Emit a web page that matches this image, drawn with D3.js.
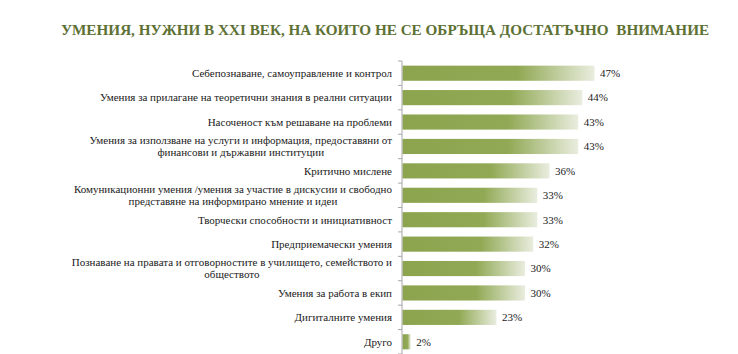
<!DOCTYPE html>
<html><head><meta charset="utf-8">
<script src="https://cdn.jsdelivr.net/npm/d3@7"></script>
<style>
html,body{margin:0;padding:0;background:#fff;}
svg{display:block;}
</style></head>
<body>
<svg id="chart" width="738" height="354"></svg>
<script>
const title = "УМЕНИЯ, НУЖНИ В XXI ВЕК, НА КОИТО НЕ СЕ ОБРЪЩА ДОСТАТЪЧНО  ВНИМАНИЕ";
const categories = [
  ["Себепознаване, самоуправление и контрол"],
  ["Умения за прилагане на теоретични знания в реални ситуации"],
  ["Насоченост към решаване на проблеми"],
  ["Умения за използване на услуги и информация, предоставяни от", "финансови и държавни институции"],
  ["Критично мислене"],
  ["Комуникационни умения /умения за участие в дискусии и свободно", "представяне на информирано мнение и идеи"],
  ["Творчески способности и инициативност"],
  ["Предприемачески умения"],
  ["Познаване на правата и отговорностите в училището, семейството и", "обществото"],
  ["Умения за работа в екип"],
  ["Дигиталните умения"],
  ["Друго"]
];
const values = [47, 44, 43, 43, 36, 33, 33, 32, 30, 30, 23, 2];
const valueLabels = ["47%", "44%", "43%", "43%", "36%", "33%", "33%", "32%", "30%", "30%", "23%", "2%"];

const FONT = "Liberation Serif";
const svg = d3.select("#chart");
const axisX = 402;
const idx = d3.range(categories.length);

const x = d3.scaleLinear().domain([0, 47]).range([axisX, 594]);
const y = d3.scaleBand().domain(idx).range([61, 354]).paddingInner(0.38).paddingOuter(0.19);

svg.append("text")
  .attr("x", 385).attr("y", 35)
  .attr("text-anchor", "middle")
  .style("font-family", FONT)
  .style("font-weight", "bold")
  .style("font-size", "15.2px")
  .style("white-space", "pre")
  .attr("fill", "#5e7135")
  .text(title);

const defs = svg.append("defs");
const grad = defs.append("linearGradient").attr("id", "barGrad")
  .attr("x1", "0").attr("x2", "1").attr("y1", "0").attr("y2", "0");
grad.append("stop").attr("offset", "0").attr("stop-color", "#8ca44e");
grad.append("stop").attr("offset", "0.6").attr("stop-color", "#91a954");
grad.append("stop").attr("offset", "1").attr("stop-color", "#e9eddf");

svg.append("g").selectAll("rect").data(idx).join("rect")
  .attr("x", axisX + 0.5)
  .attr("y", i => y(i))
  .attr("width", i => x(values[i]) - axisX)
  .attr("height", y.bandwidth())
  .attr("fill", "url(#barGrad)");

// axis line & ticks
const step = y.step();
const boundaries = idx.map(i => y(i) - step * y.paddingInner() / 2).concat([y(idx.length - 1) + y.bandwidth() + step * y.paddingInner() / 2]);
svg.append("line").attr("x1", axisX).attr("x2", axisX).attr("y1", 61).attr("y2", 354)
  .attr("stroke", "#a6a6a6").attr("stroke-width", 1);
svg.append("g").selectAll("line").data(boundaries).join("line")
  .attr("x1", axisX - 4).attr("x2", axisX)
  .attr("y1", d => d).attr("y2", d => d)
  .attr("stroke", "#a6a6a6").attr("stroke-width", 1);

// category labels
const fs = 11;
const lh = 12;
const labG = svg.append("g");
idx.forEach(i => {
  const lines = categories[i];
  const cy = y(i) + y.bandwidth() / 2;
  const n = lines.length;
  const texts = lines.map((ln, k) => labG.append("text")
    .style("font-family", FONT)
    .style("font-size", fs + "px")
    .attr("fill", "#1a1a1a")
    .attr("y", cy + (k - (n - 1) / 2) * lh + fs * 0.35)
    .text(ln));
  const widths = texts.map(t => t.node().getComputedTextLength());
  const maxW = d3.max(widths);
  const right = axisX - 10;
  texts.forEach(t => t.attr("x", right - maxW / 2).attr("text-anchor", "middle"));
});

// value labels
svg.append("g")
  .selectAll("text").data(idx).join("text")
  .style("font-family", FONT)
  .style("font-size", fs + "px")
  .attr("fill", "#1a1a1a")
  .attr("x", i => x(values[i]) + 6)
  .attr("y", i => y(i) + y.bandwidth() / 2 + fs * 0.35)
  .text(i => valueLabels[i]);
</script>
</body></html>
